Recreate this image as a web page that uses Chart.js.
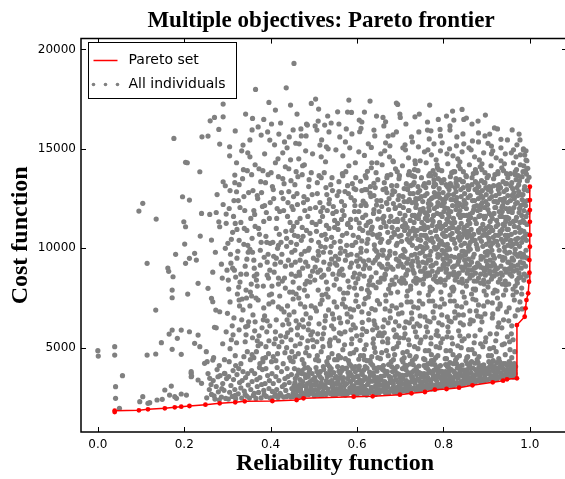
<!DOCTYPE html>
<html>
<head>
<meta charset="utf-8">
<script src="https://cdn.jsdelivr.net/npm/chart.js@4.4.0/dist/chart.umd.min.js"></script>
<style>
  html, body { margin: 0; padding: 0; background: #fff; overflow: hidden; }
</style>
</head>
<body>
<canvas id="paretoChart" width="565" height="479"></canvas>
<script>
// ticks
var xTicks = [0, 0.2, 0.4, 0.6, 0.8, 1.0];
var yTicks = [5000, 10000, 15000, 20000];

// Pareto frontier (reliability, cost)
var paretoRel = [0.039, 0.039, 0.095, 0.116, 0.155, 0.178, 0.193, 0.212, 0.249, 0.282, 0.318, 0.340, 0.404, 0.460, 0.476,
  0.592, 0.636, 0.699, 0.726, 0.757, 0.780, 0.807, 0.836, 0.867, 0.914, 0.938, 0.947, 0.970, 0.970, 0.988, 0.990, 0.992,
  0.996, 0.998, 0.999, 0.999, 1.0, 1.0, 1.0, 1.0, 1.0, 1.0];
var paretoCost = [1767, 1832, 1853, 1903, 1953, 2003, 2034, 2069, 2134, 2204, 2255, 2305, 2320, 2370, 2456,
  2536, 2556, 2637, 2707, 2773, 2888, 2923, 2989, 3109, 3260, 3341, 3411, 3461, 6140, 6558, 6980, 7397,
  7734, 8317, 8770, 9408, 10077, 10665, 11331, 11921, 12424, 13093];

// all individuals: [reliability, cost]
var outliers = [
  [0.000,4849],[0.001,4582],[0.039,5050],[0.039,4632],[0.041,3039],[0.041,2456],[0.050,1950],[0.057,3592],
  [0.097,2285],[0.104,2536],[0.116,2204],[0.120,2235],[0.137,2370],[0.149,2406],[0.155,2873],[0.170,3073],[0.166,2621],[0.178,2536],[0.182,2456],[0.193,2672],[0.205,2621],
  [0.216,3712],[0.216,3541],[0.232,3376],[0.240,3209],[0.259,3461],[0.278,3541],[0.293,3712],[0.216,3793],[0.217,3577],
  [0.114,4632],[0.134,4683],[0.147,5251],[0.165,5688],[0.172,5889],[0.184,5472],[0.193,5889],[0.172,4919],[0.193,4667],
  [0.212,5804],[0.224,5220],[0.232,5638],[0.236,5050],[0.251,4799],[0.247,4215],[0.266,4381],
  [0.134,6894],[0.172,7900],[0.172,7513],[0.174,8569],[0.180,9694],[0.162,9006],[0.164,8840],[0.114,9242],
  [0.201,10212],[0.203,9242],[0.208,7699],[0.212,9493],[0.224,9745],[0.228,9408],[0.232,8237],[0.237,10614],
  [0.255,7985],[0.263,7483],[0.266,7312],[0.263,10413],[0.270,6025],[0.273,6894],[0.282,6809],[0.300,6729],
  [0.095,11871],[0.104,12258],[0.135,11469],[0.196,12590],[0.212,12424],[0.199,11333],[0.203,11082],
  [0.240,11750],[0.259,11700],[0.274,11800],[0.297,11720],[0.280,11333],[0.282,11082],[0.297,11253],
  [0.203,14320],[0.207,14300],[0.236,13847],[0.290,13344],[0.295,13143],[0.317,13681],[0.321,12842],
  [0.176,15526],[0.241,15606],[0.255,15642],[0.282,15239],[0.305,15104],[0.336,15189],[0.398,15440],
  [0.432,15350],[0.443,15600],[0.458,15280],[0.471,15650],[0.514,15190],[0.529,15100],
  [0.280,15978],[0.378,15692],[0.419,15742],[0.507,15943],[0.485,16195],
  [0.260,16411],[0.270,16582],[0.290,16612],[0.358,16531],[0.384,16481],[0.342,16747],[0.411,16949],[0.511,17000],
  [0.290,17250],[0.396,17336],[0.446,17200],[0.494,17285],[0.504,17501],[0.365,17989],[0.436,18070],[0.454,19296]
];

var upperEdge = [
  [0.581,17451],[0.555,16860],[0.578,16850],[0.587,16830],[0.694,17235],[0.699,16748],[0.700,16582],[0.768,17200],[0.734,16612],
  [0.645,16647],[0.660,16582],[0.666,16360],[0.788,16481],[0.807,16647],[0.821,16898],[0.843,16984],
  [0.824,16446],[0.847,16481],[0.880,16396],[0.975,15742],[0.907,15742],[0.933,15476],[0.903,15275],[0.911,15139],
  [0.483,16245],[0.510,16396],[0.525,16195],[0.605,16446],[0.609,16028],[0.606,15858],[0.639,15943],[0.672,15642],
  [0.763,15943],[0.771,15908],[0.792,15978],[0.815,15943],
  [0.985,14938],[0.988,14687],[0.991,14435],[0.995,14018],[0.992,13731],[0.998,13566],
  [0.305,14650],[0.318,15900],[0.327,13200],[0.333,14900],[0.346,13900],[0.352,15450],[0.364,14200],[0.371,16100],[0.377,13350],[0.386,14750],
  [0.393,15850],[0.401,13800],[0.409,15200],[0.417,14500],[0.423,16300],[0.431,13250],[0.438,15050],[0.446,14450],[0.452,15950],[0.459,13850],
  [0.466,15250],[0.474,14150],[0.482,15650],[0.489,13450],[0.497,14750],[0.503,16150],[0.512,13650],[0.518,15450],[0.527,14350],[0.535,15850],
  [0.542,13550],[0.551,14950],[0.558,16250],[0.566,13750],[0.573,15350],[0.581,14150],[0.588,15750],[0.597,13550],[0.604,14850],[0.611,16350],
  [0.619,13650],[0.626,15250],[0.633,14050],[0.641,15650],[0.648,13450],[0.655,14750],[0.662,16150],[0.669,13550],[0.676,15150],[0.684,14350],
  [0.691,15850],[0.698,13650],[0.706,15050],[0.713,16250],[0.721,13850],[0.728,15350],[0.735,14250],[0.743,15850],[0.749,13550],[0.756,14850],
  [0.763,16350],[0.771,13650],[0.778,15250],[0.786,14050],[0.793,15650],[0.801,13450],[0.808,14750],[0.815,16150],[0.823,13850],[0.830,15150],
  [0.838,14350],[0.845,15750],[0.852,13650],[0.859,15050],[0.866,16250],[0.874,13950],[0.881,15350],[0.889,14250],[0.896,15650],[0.904,13650],
  [0.911,14750],[0.918,16050],[0.926,13850],[0.933,15050],[0.941,14250],[0.948,15450],[0.955,13750],[0.962,14950],[0.969,13950],[0.977,15450],
  [0.984,13850],[0.959,15950],[0.897,16700],[0.853,16550],[0.744,16750],[0.617,16850],[0.532,16650],[0.461,16750],[0.402,16250],[0.357,15950]
];

var lowBand = [
  [0.252,2480],[0.258,2900],[0.263,2650],[0.267,3350],[0.271,2420],[0.274,3050],[0.279,2780],[0.283,3600],[0.286,2520],[0.289,3200],
  [0.292,2860],[0.296,2450],[0.298,3450],[0.255,3700],[0.262,3150],[0.276,3900],[0.281,2380],[0.294,3700],[0.269,2580],[0.287,2950],
  [0.302,2420],[0.305,2760],[0.308,3100],[0.311,2550],[0.314,3400],[0.317,2900],[0.319,2440],[0.322,3650],[0.325,2680],[0.328,3250],
  [0.331,2980],[0.333,2470],[0.336,3800],[0.339,2820],[0.342,3500],[0.345,2560],[0.348,3120],[0.303,3550],[0.313,3850],[0.326,3950],
  [0.341,2650],[0.347,3700],[0.318,2600],[0.334,3350],
  [0.351,2470],[0.354,2900],[0.357,3300],[0.360,2600],[0.363,3700],[0.366,2450],[0.369,3050],[0.372,2750],[0.375,3500],[0.378,2480],
  [0.381,3900],[0.384,2850],[0.387,3200],[0.390,2550],[0.393,3600],[0.396,2950],[0.399,2470],[0.356,3850],[0.368,3400],[0.379,3150],
  [0.389,3950],[0.397,3350],[0.362,2700],[0.385,2650],[0.374,4000],
  [0.401,2480],[0.404,2800],[0.406,3200],[0.409,2560],[0.412,3550],[0.414,2900],[0.417,2500],[0.419,3350],[0.422,2700],[0.425,3800],
  [0.427,3050],[0.430,2520],[0.433,3450],[0.435,2850],[0.438,3950],[0.441,2600],[0.443,3250],[0.446,2530],[0.448,3650],[0.403,3700],
  [0.415,4000],[0.424,2620],[0.432,3150],[0.440,3550],[0.449,2950],[0.411,2650],[0.436,2540],
  [0.451,2540],[0.453,2850],[0.456,3250],[0.458,2600],[0.461,3600],[0.463,2950],[0.466,2560],[0.468,3400],[0.471,2750],[0.473,3850],
  [0.476,3100],[0.478,2620],[0.481,3500],[0.483,2880],[0.486,4000],[0.488,2650],[0.491,3300],[0.493,2980],[0.496,3700],[0.498,2700],
  [0.455,3950],[0.465,3750],[0.475,2700],[0.485,3200],[0.495,2850],[0.460,3050],[0.470,2590],[0.490,3900],[0.479,3650],[0.499,3150],
  [0.501,2590],[0.503,2900],[0.506,3300],[0.508,2650],[0.511,3650],[0.513,3000],[0.516,2600],[0.518,3450],[0.521,2800],[0.523,3900],
  [0.526,3150],[0.528,2650],[0.531,3550],[0.533,2920],[0.536,4050],[0.538,2700],[0.541,3350],[0.543,3020],[0.546,3750],[0.548,2750],
  [0.505,4000],[0.515,3800],[0.525,2720],[0.535,3250],[0.545,2880],[0.510,3100],[0.520,2630],[0.540,3950],[0.529,3700],[0.549,3200],
  [0.502,3500],[0.532,4150],
  [0.551,2650],[0.553,2950],[0.556,3350],[0.558,2700],[0.561,3700],[0.563,3050],[0.566,2660],[0.568,3500],[0.571,2850],[0.573,3950],
  [0.576,3200],[0.578,2700],[0.581,3600],[0.583,2970],[0.586,4100],[0.588,2750],[0.591,3400],[0.593,3080],[0.596,3800],[0.598,2800],
  [0.555,4050],[0.565,3850],[0.575,2760],[0.585,3300],[0.595,2930],[0.560,3150],[0.570,2680],[0.590,3950],[0.579,3750],[0.599,3250],
  [0.552,3550],[0.582,4200],[0.562,2820],[0.589,3550],
  [0.601,2680],[0.603,2980],[0.606,3380],[0.608,2730],[0.611,3720],[0.613,3070],[0.616,2690],[0.618,3520],[0.621,2880],[0.623,3970],
  [0.626,3220],[0.628,2730],[0.631,3620],[0.633,2990],[0.636,4120],[0.638,2780],[0.641,3420],[0.643,3100],[0.646,3820],[0.648,2830],
  [0.605,4070],[0.615,3870],[0.625,2790],[0.635,3320],[0.645,2950],[0.610,3170],[0.620,2710],[0.640,3970],[0.629,3770],[0.649,3270],
  [0.602,3570],[0.632,4220],[0.612,2850],[0.639,3570],[0.622,3420],[0.644,2730],
  [0.651,2740],[0.653,3130],[0.655,3560],[0.657,2810],[0.659,3900],[0.662,2950],[0.664,3300],[0.666,2720],[0.668,3700],[0.671,3050],
  [0.673,4150],[0.675,2790],[0.677,3420],[0.679,2880],[0.682,3800],[0.684,3180],[0.686,2760],[0.688,3600],[0.691,2990],[0.693,4050],
  [0.695,3270],[0.697,2800],[0.699,3500],[0.656,3380],[0.661,4100],[0.669,3200],[0.674,3560],[0.681,2920],[0.687,3950],[0.694,3700],
  [0.652,2900],[0.667,2850],[0.683,3330],[0.698,3120],[0.663,3850],[0.689,2830],
  [0.701,2790],[0.703,3180],[0.705,3610],[0.707,2860],[0.709,3950],[0.712,3000],[0.714,3350],[0.716,2800],[0.718,3750],[0.721,3100],
  [0.723,4180],[0.725,2880],[0.727,3470],[0.729,2950],[0.732,3850],[0.734,3230],[0.736,2870],[0.738,3650],[0.741,3040],[0.743,4080],
  [0.745,3320],[0.747,2900],[0.749,3550],[0.706,3430],[0.711,4120],[0.719,3250],[0.724,3610],[0.731,2970],[0.737,4000],[0.744,3750],
  [0.702,2960],[0.717,2920],[0.733,3380],[0.748,3170],[0.713,3900],[0.739,2920],[0.728,3780],
  [0.751,2930],[0.753,3300],[0.755,3700],[0.757,2990],[0.759,4000],[0.762,3130],[0.764,3480],[0.766,2960],[0.768,3830],[0.771,3230],
  [0.773,4170],[0.775,3020],[0.777,3570],[0.779,3090],[0.782,3920],[0.784,3350],[0.786,3030],[0.788,3720],[0.791,3170],[0.793,4100],
  [0.795,3440],[0.797,3060],[0.799,3640],[0.756,3510],[0.761,4130],[0.769,3380],[0.774,3700],[0.781,3120],[0.787,4020],[0.794,3820],
  [0.752,3100],[0.767,3090],[0.783,3520],[0.798,3280],[0.763,3950],[0.789,3070],[0.778,3860],
  [0.801,3080],[0.803,3430],[0.805,3800],[0.807,3130],[0.809,4050],[0.812,3270],[0.814,3600],[0.816,3110],[0.818,3900],[0.821,3360],
  [0.823,4200],[0.825,3160],[0.827,3680],[0.829,3220],[0.832,3980],[0.834,3470],[0.836,3180],[0.838,3790],[0.841,3300],[0.843,4120],
  [0.845,3560],[0.847,3200],[0.849,3730],[0.806,3620],[0.811,4150],[0.819,3500],[0.824,3810],[0.831,3250],[0.837,4060],[0.844,3880],
  [0.802,3250],[0.817,3240],[0.833,3620],[0.848,3400],[0.813,3960],[0.839,3220],
  [0.851,3220],[0.853,3560],[0.855,3900],[0.857,3270],[0.859,4100],[0.862,3400],[0.864,3720],[0.866,3250],[0.868,3980],[0.871,3480],
  [0.873,4220],[0.875,3310],[0.877,3790],[0.879,3370],[0.882,4030],[0.884,3580],[0.886,3340],[0.888,3860],[0.891,3430],[0.893,4140],
  [0.895,3650],[0.897,3380],[0.899,3800],[0.856,3720],[0.861,4170],[0.869,3620],[0.874,3900],[0.881,3400],[0.887,4090],[0.894,3930],
  [0.852,3380],[0.867,3360],[0.883,3720],
  [0.901,3380],[0.903,3700],[0.905,4000],[0.907,3420],[0.909,4150],[0.912,3550],[0.914,3850],[0.916,3440],[0.918,4050],[0.921,3620],
  [0.923,4250],[0.925,3480],[0.927,3900],[0.929,3540],[0.932,4100],[0.934,3720],[0.936,3560],[0.938,3950],[0.941,3600],[0.943,4200],
  [0.945,3780],[0.947,3620],[0.949,3880],[0.906,3800],[0.911,4250],[0.919,3750],[0.924,3950],[0.931,3560],[0.937,4150],
  [0.951,3530],[0.953,3850],[0.955,4100],[0.957,3620],[0.959,3950],[0.962,3580],[0.964,4200],[0.966,3700],[0.952,4300],[0.958,4500],
  [0.963,3800],[0.956,3560]
];

// second pass over the band along the frontier, where the reference is almost solid grey
var lowFill = [
  [0.452,2700],[0.457,3450],[0.462,2820],[0.467,3150],[0.472,3700],[0.477,2560],[0.482,3050],[0.487,3550],[0.492,2760],[0.497,3400],
  [0.454,3100],[0.459,2620],[0.464,3880],[0.469,2930],[0.474,3300],[0.484,2680],[0.489,3750],[0.494,3080],[0.500,2640],[0.479,3980],
  [0.504,3150],[0.509,2820],[0.514,3550],[0.519,3050],[0.524,2700],[0.529,3350],[0.534,2780],[0.539,3620],[0.544,2620],[0.549,3480],
  [0.507,3800],[0.512,2720],[0.517,3250],[0.522,4050],[0.527,3000],[0.537,3850],[0.542,3150],[0.547,2950],
  [0.553,3200],[0.558,3820],[0.563,2900],[0.568,3300],[0.573,2620],[0.578,3450],[0.583,3750],[0.588,3100],[0.593,2700],[0.598,3550],
  [0.556,2780],[0.561,3480],[0.566,4000],[0.571,3100],[0.576,3980],[0.581,2800],[0.586,3650],[0.591,2880],[0.596,4050],
  [0.602,3250],[0.607,2800],[0.612,3650],[0.617,3050],[0.622,2620],[0.627,3450],[0.632,2880],[0.637,3720],[0.642,2650],[0.647,3500],
  [0.604,3900],[0.609,2980],[0.614,3350],[0.619,4050],[0.624,3150],[0.634,3000],[0.639,2750],[0.644,3300],[0.649,4000],
  [0.653,3400],[0.658,2880],[0.663,3600],[0.668,3120],[0.673,2700],[0.678,3500],[0.683,2980],[0.688,3850],[0.693,2740],[0.698,3650],
  [0.655,4000],[0.660,3150],[0.665,2780],[0.670,3800],[0.676,3250],[0.680,4050],[0.685,2850],[0.690,3380],[0.696,3050],
  [0.703,3400],[0.708,2830],[0.713,3620],[0.718,3080],[0.723,2780],[0.728,3550],[0.733,3000],[0.738,3850],[0.743,2880],[0.748,3700],
  [0.705,3950],[0.710,3200],[0.715,4100],[0.720,2900],[0.726,3300],[0.730,4150],[0.735,2930],[0.740,3420],[0.746,3080],
  [0.753,3550],[0.758,2950],[0.763,3700],[0.768,3150],[0.773,2920],[0.778,3600],[0.783,3100],[0.788,3880],[0.793,3000],[0.798,3800],
  [0.755,4100],[0.760,3300],[0.765,4200],[0.770,3050],[0.776,3450],[0.780,4150],[0.785,2980],[0.790,3550],[0.796,3200],
  [0.803,3600],[0.808,3050],[0.813,3800],[0.818,3250],[0.823,3080],[0.828,3700],[0.833,3200],[0.838,3950],[0.843,3150],[0.848,3880],
  [0.805,4150],[0.810,3400],[0.815,4250],[0.820,3150],[0.826,3520],[0.830,4200],[0.835,3100],[0.840,3620],[0.846,3300],
  [0.853,3700],[0.858,3200],[0.863,3950],[0.868,3400],[0.873,3250],[0.878,3850],[0.883,3380],[0.888,4080],[0.893,3320],[0.898,3950],
  [0.855,4200],[0.860,3500],[0.865,4300],[0.870,3300],[0.876,3650],[0.880,4250],[0.885,3300],[0.890,3750],[0.896,3500],
  [0.903,3850],[0.908,3450],[0.913,4050],[0.918,3580],[0.923,3420],[0.928,4000],[0.933,3600],[0.938,4200],[0.943,3500],[0.948,4100],
  [0.905,4300],[0.910,3600],[0.915,4350],[0.920,3480],[0.926,3800],[0.930,4300],[0.935,3460],[0.940,3900],[0.946,3700],
  [0.952,3650],[0.955,3900],[0.958,3550],[0.961,4150],[0.965,3850],[0.954,4250],[0.960,3700],[0.963,3520],[0.967,4050]
];

var midBand = [
  [0.253,4300],[0.268,4500],[0.281,4100],[0.293,4400],[0.289,5200],[0.274,6000],[0.297,5800],
  [0.304,4300],[0.318,4600],[0.331,4200],[0.346,4800],[0.309,5400],[0.327,5900],[0.341,5300],[0.315,6500],[0.336,6900],[0.349,6300],
  [0.306,7300],[0.323,7700],[0.344,7500],[0.306,4950],[0.321,5250],[0.338,4550],[0.347,6100],[0.328,7100],[0.311,6100],[0.343,5650],
  [0.319,4100],[0.333,6400],
  [0.353,4400],[0.367,4800],[0.382,4300],[0.395,4700],[0.358,5500],[0.377,5200],[0.391,5800],[0.364,6300],[0.386,6600],[0.352,7100],
  [0.371,7400],[0.396,7200],[0.380,6000],[0.357,4650],[0.371,5100],[0.388,4500],[0.396,5350],[0.363,5850],[0.384,7000],[0.359,6650],
  [0.392,6350],[0.375,4200],
  [0.402,4300],[0.416,4700],[0.429,4200],[0.444,4500],[0.408,5200],[0.423,5600],[0.437,5000],[0.447,5900],[0.413,6400],[0.431,6800],
  [0.442,6200],[0.405,7300],[0.421,7600],[0.439,7100],[0.406,4550],[0.419,5050],[0.433,4750],[0.447,5400],[0.411,5800],[0.428,6150],
  [0.443,6650],[0.418,7050],[0.435,5550],
  [0.452,4300],[0.464,4700],[0.477,4200],[0.489,4600],[0.457,5100],[0.472,5500],[0.484,5000],[0.497,5400],[0.462,6000],[0.474,6400],
  [0.487,5900],[0.454,6800],[0.469,7200],[0.482,6700],[0.494,7100],[0.459,7700],[0.478,7900],[0.456,4550],[0.468,5200],[0.481,4750],
  [0.497,5800],[0.459,6350],[0.476,6050],[0.492,6500],[0.465,7500],[0.486,5350],
  [0.504,4400],[0.517,4800],[0.530,4300],[0.542,4700],[0.507,5300],[0.522,5700],[0.537,5100],[0.549,5500],[0.512,6200],[0.527,6600],
  [0.541,6100],[0.503,7000],[0.519,7400],[0.534,6900],[0.547,7300],[0.510,7900],[0.528,7700],[0.508,4600],[0.521,5050],[0.534,4500],
  [0.546,5950],[0.509,5700],[0.526,6350],[0.543,6700],[0.515,7200],[0.538,5400],
  [0.554,4400],[0.567,4900],[0.580,4350],[0.592,4750],[0.557,5350],[0.572,5800],[0.587,5200],[0.599,5600],[0.562,6250],[0.577,6700],
  [0.591,6150],[0.553,7050],[0.569,7450],[0.584,6950],[0.597,7350],[0.560,7950],[0.578,7750],[0.594,8000],[0.557,4600],[0.571,5150],
  [0.584,4700],[0.596,6000],[0.563,5700],[0.578,6300],[0.592,6900],[0.566,7200],[0.588,5450],
  [0.604,4420],[0.617,4920],[0.630,4370],[0.642,4770],[0.607,5370],[0.622,5820],[0.637,5220],[0.649,5620],[0.612,6270],[0.627,6720],
  [0.641,6170],[0.603,7070],[0.619,7470],[0.634,6970],[0.647,7370],[0.610,7970],[0.628,7770],[0.644,8020],[0.615,4600],[0.640,5000],
  [0.608,4600],[0.621,5150],[0.634,4550],[0.646,6000],[0.611,5650],[0.627,6400],[0.642,6900],[0.616,7200],[0.638,5450],
  [0.654,4450],[0.668,4850],[0.679,4300],[0.692,5050],[0.658,5600],[0.671,5250],[0.685,5900],[0.698,5500],[0.663,6400],[0.676,6850],
  [0.689,6300],[0.652,7200],[0.666,7650],[0.681,7100],[0.694,7800],[0.672,4600],[0.687,4650],[0.660,6050],[0.696,6700],
  [0.657,4750],[0.671,5450],[0.684,4950],[0.697,6100],[0.663,5750],[0.677,6500],[0.691,7000],[0.667,7350],[0.688,5550],
  [0.704,4400],[0.716,4800],[0.728,4350],[0.741,4950],[0.708,5500],[0.721,5150],[0.735,5800],[0.748,5400],[0.713,6300],[0.726,6750],
  [0.739,6200],[0.702,7150],[0.715,7600],[0.731,7050],[0.744,7750],[0.722,4600],[0.737,4550],[0.710,6000],[0.746,6600],[0.725,7300],
  [0.706,4750],[0.719,5400],[0.733,5050],[0.745,6100],[0.711,5700],[0.727,6450],[0.741,7000],[0.716,7300],[0.738,5550],
  [0.754,4450],[0.766,4850],[0.778,4380],[0.791,5000],[0.758,5550],[0.771,5200],[0.785,5850],[0.798,5450],[0.763,6350],[0.776,6800],
  [0.789,6250],[0.752,7200],[0.765,7650],[0.781,7100],[0.794,7800],[0.772,4650],[0.787,4600],[0.760,6050],[0.796,6650],[0.775,7350],
  [0.758,4850],[0.771,5500],[0.783,5050],[0.797,6150],[0.763,5800],[0.778,6500],[0.792,7050],[0.767,7350],[0.788,5600],
  [0.804,4450],[0.816,4850],[0.828,4380],[0.841,5000],[0.808,5550],[0.821,5200],[0.835,5850],[0.848,5450],[0.813,6350],[0.826,6800],
  [0.839,6250],[0.802,7200],[0.815,7650],[0.831,7100],[0.844,7800],[0.822,4650],[0.837,4600],[0.810,6050],[0.846,6650],[0.825,7350],
  [0.806,4850],[0.819,5500],[0.833,5100],[0.846,6150],[0.811,5800],[0.827,6500],[0.842,7050],[0.816,7350],[0.838,5600],
  [0.854,4500],[0.866,4900],[0.878,4400],[0.891,5050],[0.858,5600],[0.871,5250],[0.885,5900],[0.898,5500],[0.863,6400],[0.876,6850],
  [0.889,6300],[0.852,7250],[0.865,7700],[0.881,7150],[0.894,7850],[0.872,4700],[0.896,6700],[0.875,7400],
  [0.858,4900],[0.873,5600],[0.886,5200],[0.861,6200],[0.879,6600],[0.893,7100],[0.868,7450],
  [0.904,4600],[0.916,5000],[0.928,4450],[0.941,5200],[0.908,5700],[0.921,5350],[0.935,6000],[0.948,5550],[0.913,6500],[0.926,6950],
  [0.939,6400],[0.902,7300],[0.915,7750],[0.931,7200],[0.944,7900],[0.922,4800],[0.946,6800],[0.925,7500],
  [0.907,4950],[0.923,5700],[0.936,5150],[0.914,6700],[0.931,7100],
  [0.954,4900],[0.961,5400],[0.958,6100],[0.966,6600],[0.952,7000],[0.964,7400],[0.972,6900],[0.977,7300],[0.982,6950],[0.969,7800],
  [0.957,5700],[0.965,4800],
  [0.361,4500],[0.373,5600],[0.389,5050],[0.398,6100],[0.412,4350],[0.426,5300],[0.438,6400],[0.449,4800],[0.462,5650],[0.473,4400],
  [0.488,6200],[0.499,5050],[0.511,4350],[0.524,6000],[0.536,5250],[0.548,4400],[0.559,6500],[0.573,4450],[0.586,5900],[0.598,4900],
  [0.611,6800],[0.623,4350],[0.636,5900],[0.648,4500],[0.659,5300],[0.672,6250],[0.684,4400],[0.696,5250],[0.709,4500],[0.721,6250],
  [0.734,4450],[0.746,5250],[0.757,4400],[0.769,6300],[0.782,4500],[0.794,5250],[0.807,4450],[0.818,6300],[0.831,4500],[0.843,5350],
  [0.856,4550],[0.869,6350],[0.882,4550],[0.897,5300],[0.911,4600],[0.928,6250],[0.943,4650],[0.953,5300],[0.382,4450],[0.447,4350],
  [0.562,4500],[0.617,4400],[0.706,4300],[0.772,4350],[0.852,4350],
  [0.313,5650],[0.327,7400],[0.342,6050],[0.356,7600],[0.369,5350],[0.383,6400],[0.397,7650],[0.411,5450],[0.425,6950],[0.439,5750],
  [0.452,7450],[0.466,6150],[0.479,7050],[0.493,5650],[0.506,6850],[0.519,5450],[0.533,7550],[0.546,6450],[0.559,5750],[0.573,7050],
  [0.586,6550],[0.599,7650],[0.613,5950],[0.626,7550],[0.639,6350],[0.652,5750],[0.665,6950],[0.678,7750],[0.691,5650],[0.704,6750],
  [0.717,7850],[0.731,6050],[0.744,7350],[0.757,6550],[0.769,7850],[0.783,5650],[0.796,7450],[0.809,6550],[0.822,7850],[0.835,6650],
  [0.848,7550],[0.861,6850],[0.874,7950],[0.887,6550],[0.899,7650],[0.913,7250],[0.926,6050],[0.939,7650],[0.951,6350],[0.961,7650]
];

var cloud = [
  [0.266,8800],[0.288,8500],[0.299,8900],[0.272,9800],[0.286,9200],[0.295,10000],[0.290,12200],[0.276,12700],
  [0.302,8400],[0.316,8900],[0.329,8300],[0.341,9100],[0.307,9700],[0.322,9500],[0.338,10200],[0.348,9800],[0.312,10800],[0.331,11300],
  [0.345,10900],[0.304,12000],[0.325,12400],[0.340,11900],[0.335,13500],[0.321,14300],[0.347,14800],
  [0.355,8200],[0.368,8700],[0.383,8100],[0.398,8900],[0.361,9400],[0.376,9900],[0.392,9300],[0.357,10500],[0.372,11000],[0.389,10600],
  [0.363,11700],[0.381,12100],[0.397,11500],[0.359,12900],[0.388,13300],[0.373,14000],[0.352,14600],[0.394,13700],[0.370,12500],
  [0.403,8100],[0.418,8500],[0.434,8000],[0.448,8700],[0.410,9200],[0.426,9700],[0.441,9400],[0.405,10300],[0.420,10700],[0.437,10100],
  [0.449,10900],[0.414,11500],[0.430,11900],[0.445,11300],[0.407,12500],[0.425,12800],[0.440,12300],[0.418,13600],[0.434,14100],
  [0.447,13400],[0.428,14800],[0.411,14300],
  [0.452,8300],[0.466,8800],[0.480,8200],[0.492,8600],[0.457,9300],[0.471,9700],[0.486,9100],[0.499,9500],[0.460,10200],[0.475,10600],
  [0.489,10000],[0.453,11100],[0.468,11500],[0.483,10900],[0.496,11300],[0.462,12200],[0.477,12600],[0.491,12000],[0.456,13200],
  [0.473,13700],[0.488,13100],[0.465,14500],[0.481,14900],[0.470,16000],
  [0.502,8400],[0.515,8900],[0.529,8300],[0.544,8700],[0.507,9400],[0.522,9800],[0.537,9200],[0.550,9600],[0.511,10300],[0.526,10700],
  [0.540,10100],[0.505,11200],[0.520,11600],[0.535,11000],[0.548,11400],[0.514,12300],[0.530,12700],[0.545,12100],[0.508,13300],
  [0.524,13800],[0.539,13200],[0.517,14600],[0.533,15000],[0.540,16300],
  [0.552,8450],[0.565,8950],[0.579,8350],[0.594,8750],[0.557,9450],[0.572,9850],[0.587,9250],[0.600,9650],[0.561,10350],[0.576,10750],
  [0.590,10150],[0.555,11250],[0.570,11650],[0.585,11050],[0.598,11450],[0.564,12350],[0.580,12750],[0.595,12150],[0.558,13350],
  [0.574,13850],[0.589,13250],[0.567,14650],[0.583,15050],[0.596,14300],[0.575,16000],[0.560,15600],
  [0.602,8470],[0.615,8970],[0.629,8370],[0.644,8770],[0.607,9470],[0.622,9870],[0.637,9270],[0.650,9670],[0.611,10370],[0.626,10770],
  [0.640,10170],[0.605,11270],[0.620,11670],[0.635,11070],[0.648,11470],[0.614,12370],[0.630,12770],[0.645,12170],[0.608,13370],
  [0.624,13870],[0.639,13270],[0.617,14670],[0.633,15070],[0.646,14300],[0.630,17400],
  [0.653,8300],[0.665,8700],[0.677,8150],[0.690,8550],[0.657,9100],[0.670,9500],[0.683,8950],[0.697,9350],[0.661,9900],[0.674,10350],
  [0.688,9750],[0.652,10700],[0.667,11100],[0.680,10550],[0.694,10950],[0.659,11500],[0.673,11950],[0.686,11350],[0.699,11750],
  [0.655,12400],[0.669,12800],[0.684,12250],[0.697,12650],[0.663,13300],[0.678,13700],[0.692,13150],[0.658,14200],[0.675,14600],
  [0.689,14000],[0.666,15300],[0.683,15700],[0.691,17300],
  [0.703,8250],[0.713,8650],[0.724,8100],[0.736,8500],[0.747,8850],[0.707,9050],[0.718,9450],[0.729,8900],[0.741,9300],[0.711,9850],
  [0.722,10300],[0.734,9700],[0.746,10100],[0.702,10650],[0.716,11050],[0.727,10500],[0.739,10900],[0.706,11450],[0.720,11900],
  [0.732,11300],[0.744,11700],[0.709,12350],[0.723,12750],[0.737,12200],[0.749,12600],[0.714,13250],[0.728,13650],[0.741,13100],
  [0.705,14150],[0.719,14550],[0.733,13950],[0.746,14400],[0.711,15200],[0.726,15600],[0.742,15100],
  [0.753,8200],[0.761,8600],[0.769,8050],[0.777,8450],[0.786,8800],[0.794,8300],[0.757,9000],[0.765,9400],[0.774,8850],[0.783,9250],
  [0.792,9650],[0.800,9100],[0.751,9800],[0.759,10250],[0.768,9650],[0.779,10050],[0.788,10450],[0.797,9900],[0.755,10650],
  [0.764,11050],[0.773,10500],[0.782,10900],[0.791,11300],[0.799,10750],[0.758,11500],[0.767,11900],[0.776,11350],[0.785,11750],
  [0.795,12150],[0.752,12350],[0.762,12750],[0.771,12200],[0.781,12600],[0.790,13000],[0.798,12450],[0.756,13250],[0.766,13650],
  [0.777,13100],[0.788,13500],[0.796,13900],[0.760,14300],[0.772,14700],[0.785,14200],[0.793,14900],[0.767,15500],[0.797,15300],
  [0.803,8150],[0.811,8550],[0.819,8000],[0.827,8400],[0.836,8750],[0.844,8250],[0.807,8950],[0.815,9350],[0.824,8800],[0.833,9200],
  [0.842,9600],[0.850,9050],[0.801,9750],[0.809,10200],[0.818,9600],[0.829,10000],[0.838,10400],[0.847,9850],[0.805,10600],
  [0.814,11000],[0.823,10450],[0.832,10850],[0.841,11250],[0.849,10700],[0.808,11450],[0.817,11850],[0.826,11300],[0.835,11700],
  [0.845,12100],[0.802,12300],[0.812,12700],[0.821,12150],[0.831,12550],[0.840,12950],[0.848,12400],[0.806,13200],[0.816,13600],
  [0.827,13050],[0.838,13450],[0.846,13850],[0.810,14250],[0.822,14650],[0.835,14150],[0.843,14850],[0.831,15600],[0.847,15250],
  [0.853,8100],[0.861,8500],[0.869,7950],[0.877,8350],[0.886,8700],[0.894,8200],[0.857,8900],[0.865,9300],[0.874,8750],[0.883,9150],
  [0.892,9550],[0.900,9000],[0.851,9700],[0.859,10150],[0.868,9550],[0.879,9950],[0.888,10350],[0.897,9800],[0.855,10550],
  [0.864,10950],[0.873,10400],[0.882,10800],[0.891,11200],[0.899,10650],[0.858,11400],[0.867,11800],[0.876,11250],[0.885,11650],
  [0.895,12050],[0.852,12250],[0.862,12650],[0.871,12100],[0.881,12500],[0.890,12900],[0.898,12350],[0.856,13150],[0.866,13550],
  [0.877,13000],[0.888,13400],[0.896,13800],[0.860,14200],[0.872,14600],[0.885,14100],[0.893,14800],[0.867,15400],[0.881,15800],
  [0.903,8050],[0.911,8450],[0.919,7900],[0.927,8300],[0.936,8650],[0.944,8150],[0.907,8850],[0.915,9250],[0.924,8700],[0.933,9100],
  [0.942,9500],[0.950,8950],[0.901,9650],[0.909,10100],[0.918,9500],[0.929,9900],[0.938,10300],[0.947,9750],[0.905,10500],
  [0.914,10900],[0.923,10350],[0.932,10750],[0.941,11150],[0.949,10600],[0.908,11350],[0.917,11750],[0.926,11200],[0.935,11600],
  [0.945,12000],[0.902,12200],[0.912,12600],[0.921,12050],[0.931,12450],[0.940,12850],[0.948,12300],[0.906,13100],[0.916,13500],
  [0.927,12950],[0.938,13350],[0.946,13750],[0.910,14150],[0.922,14550],[0.935,14050],[0.943,14750],[0.925,16000],
  [0.951,8200],[0.958,8600],[0.966,8100],[0.974,8500],[0.981,8000],[0.986,8400],[0.955,9000],[0.962,9400],[0.970,8900],[0.978,9300],
  [0.985,9700],[0.990,9100],[0.953,9800],[0.961,10200],[0.968,9700],[0.976,10100],[0.983,10500],[0.991,9900],[0.957,10700],
  [0.964,11100],[0.972,10500],[0.980,10900],[0.987,11300],[0.993,10700],[0.951,11500],[0.959,11900],[0.967,11400],[0.975,11800],
  [0.984,12200],[0.991,11600],[0.955,12400],[0.963,12800],[0.971,12300],[0.979,12700],[0.988,13100],[0.994,12400],[0.958,13300],
  [0.966,13700],[0.974,13200],[0.982,13600],[0.990,13900],[0.993,14400],[0.991,14900],[0.994,13400],[0.962,14300],[0.978,14700],
  [0.970,15200],[0.985,15000],[0.957,14800],[0.995,12900],[0.996,11800]
];

// extra points where the cloud is thickest
var core = [
  [0.312,9000],[0.327,10400],[0.344,8700],[0.362,9000],[0.378,10300],[0.394,9700],[0.367,8400],[0.408,8800],[0.423,9300],[0.437,10500],
  [0.416,10000],[0.449,9800],[0.458,8600],[0.474,9000],[0.487,9900],[0.463,10600],[0.494,10400],[0.479,11900],[0.509,8800],[0.523,9300],
  [0.538,9800],[0.516,10100],[0.547,10300],[0.531,11900],[0.558,8700],[0.573,9400],[0.586,9700],[0.562,10000],[0.597,10300],[0.578,11200],
  [0.594,12400],[0.566,11900],
  [0.606,8700],[0.619,9150],[0.633,8550],[0.647,9550],[0.609,10000],[0.625,10450],[0.641,9950],[0.613,10900],[0.631,11350],[0.646,10650],
  [0.604,11850],[0.621,12150],[0.638,11750],[0.618,12950],[0.642,13050],[0.627,9400],
  [0.656,8500],[0.668,8950],[0.681,8400],[0.695,9100],[0.660,9650],[0.676,9850],[0.691,10150],[0.654,10300],[0.671,10800],[0.687,10700],
  [0.662,11300],[0.678,11600],[0.693,11450],[0.657,12100],[0.674,12500],[0.689,12050],[0.666,13000],[0.683,12900],[0.697,13500],[0.671,9200],
  [0.704,8500],[0.717,8900],[0.731,8350],[0.743,9100],[0.709,9550],[0.726,9650],[0.738,10000],[0.703,10350],[0.719,10700],[0.735,10650],
  [0.748,11000],[0.712,11200],[0.728,11650],[0.742,11500],[0.707,12050],[0.721,12450],[0.736,12500],[0.716,13000],[0.732,13300],[0.745,12900],
  [0.725,9200],[0.747,10400],[0.730,11000],
  [0.754,8450],[0.767,8750],[0.781,8600],[0.795,8950],[0.758,9600],[0.771,9100],[0.787,9700],[0.799,9450],[0.762,10050],[0.776,10300],
  [0.791,10200],[0.756,10950],[0.770,10800],[0.786,11100],[0.798,11100],[0.763,11650],[0.779,12000],[0.793,11700],[0.757,12650],[0.772,12500],
  [0.787,12300],[0.799,12800],[0.766,13300],[0.782,13200],[0.794,13400],[0.776,13900],[0.760,9250],[0.784,10600],
  [0.804,8400],[0.817,8700],[0.831,8550],[0.845,8900],[0.808,9500],[0.821,9050],[0.837,9650],[0.849,9400],[0.812,10000],[0.826,10250],
  [0.841,10150],[0.806,10900],[0.820,10750],[0.836,11050],[0.848,11050],[0.813,11600],[0.829,11950],[0.843,11650],[0.807,12600],[0.822,12450],
  [0.837,12250],[0.849,12750],[0.816,13250],[0.832,13150],[0.844,13350],[0.826,13850],[0.810,9200],[0.834,10550],
  [0.854,8350],[0.867,8650],[0.881,8500],[0.895,8850],[0.858,9450],[0.871,9000],[0.887,9600],[0.899,9350],[0.862,9950],[0.876,10200],
  [0.891,10100],[0.856,10850],[0.870,10700],[0.886,11000],[0.898,11000],[0.863,11550],[0.879,11900],[0.893,11600],[0.857,12550],[0.872,12400],
  [0.887,12200],[0.899,12700],[0.866,13200],[0.882,13100],[0.894,13300],[0.876,13800],[0.860,9150],[0.884,10500],
  [0.904,8300],[0.917,8600],[0.931,8450],[0.945,8800],[0.908,9400],[0.921,8950],[0.937,9550],[0.949,9300],[0.912,9900],[0.926,10150],
  [0.941,10050],[0.906,10800],[0.920,10650],[0.936,10950],[0.948,10950],[0.913,11500],[0.929,11850],[0.943,11550],[0.907,12500],[0.922,12350],
  [0.937,12150],[0.949,12650],[0.916,13150],[0.932,13050],[0.944,13250],[0.926,13750],[0.910,9100],[0.934,10450],
  [0.954,8700],[0.963,9100],[0.972,9600],[0.981,10300],[0.956,10400],[0.966,10800],[0.977,11300],[0.986,11900],[0.953,12000],[0.962,12600],
  [0.976,12000],[0.984,12700],[0.960,13000],[0.968,13450],[0.988,10600],[0.959,9500],[0.970,8400],[0.980,9000]
];

// second pass over the thick part of the cloud
var coreFill = [
  [0.503,9050],[0.511,9650],[0.518,8550],[0.526,10050],[0.534,8950],[0.541,10550],[0.549,9250],[0.506,10850],[0.514,11350],[0.521,12050],
  [0.529,11150],[0.536,12450],[0.544,11750],[0.508,12750],[0.517,13550],[0.528,13050],[0.543,12900],[0.532,7950],[0.519,7650],[0.547,8150],
  [0.553,9150],[0.561,9750],[0.568,8650],[0.576,10150],[0.584,9050],[0.591,10650],[0.599,9350],[0.556,10950],[0.564,11450],[0.571,12150],
  [0.579,11250],[0.586,12550],[0.594,11850],[0.558,12850],[0.567,13650],[0.578,13150],[0.593,13000],[0.582,8050],[0.569,7750],[0.597,8250],
  [0.603,9100],[0.609,9800],[0.616,8600],[0.623,10250],[0.629,9000],[0.636,10700],[0.642,9400],[0.649,8300],[0.606,11000],[0.613,11550],
  [0.619,12250],[0.626,11300],[0.632,12600],[0.639,11950],[0.646,12400],[0.611,12900],[0.621,13550],[0.631,13100],[0.644,13800],[0.624,7900],
  [0.637,8150],[0.648,10550],[0.634,14300],[0.652,9200],[0.658,9900],[0.665,8650],[0.672,10300],[0.678,9050],[0.685,10800],[0.691,9450],
  [0.698,8350],[0.655,11050],[0.662,11600],[0.668,12300],[0.675,11350],[0.681,12700],[0.688,12000],[0.695,12450],[0.660,12950],[0.670,13650],
  [0.680,13150],[0.693,13850],[0.673,7950],[0.686,8200],[0.697,10600],[0.683,14400],[0.664,14900],
  [0.702,9200],[0.708,9950],[0.714,8700],[0.720,10350],[0.727,9100],[0.733,10850],[0.739,9500],[0.745,8400],[0.705,11100],[0.711,11650],
  [0.717,12350],[0.723,11400],[0.730,12750],[0.736,12050],[0.743,12500],[0.709,13000],[0.719,13700],[0.729,13200],[0.741,13900],[0.724,7950],
  [0.737,8250],[0.748,10650],[0.734,14400],[0.712,14950],[0.746,11950],
  [0.752,9300],[0.757,10000],[0.763,8750],[0.769,10400],[0.775,9150],[0.781,10900],[0.787,9550],[0.793,8450],[0.799,10200],[0.755,11150],
  [0.761,11700],[0.767,12400],[0.773,11450],[0.779,12800],[0.785,12100],[0.791,12550],[0.797,11600],[0.759,13050],[0.769,13750],[0.779,13250],
  [0.789,13950],[0.774,7950],[0.786,8300],[0.798,10700],[0.783,14450],[0.764,14950],[0.796,13300],[0.753,12000],
  [0.802,9250],[0.807,9900],[0.813,8700],[0.819,10450],[0.825,9100],[0.831,10950],[0.837,9500],[0.843,8450],[0.849,10250],[0.805,11200],
  [0.811,11750],[0.817,12450],[0.823,11500],[0.829,12850],[0.835,12150],[0.841,12600],[0.847,11650],[0.809,13100],[0.819,13800],[0.829,13300],
  [0.839,14000],[0.824,7950],[0.836,8300],[0.848,10750],[0.833,14500],[0.814,15000],[0.846,13350],[0.803,12050],[0.815,10650],[0.842,9050],
  [0.852,9200],[0.857,9850],[0.863,8650],[0.869,10400],[0.875,9050],[0.881,10900],[0.887,9450],[0.893,8400],[0.899,10200],[0.855,11150],
  [0.861,11700],[0.867,12400],[0.873,11450],[0.879,12800],[0.885,12100],[0.891,12550],[0.897,11600],[0.859,13050],[0.869,13750],[0.879,13250],
  [0.889,13950],[0.874,7900],[0.886,8250],[0.898,10700],[0.883,14450],[0.864,14950],[0.896,13300],[0.853,12000],[0.865,10600],[0.892,9000],
  [0.902,9150],[0.907,9800],[0.913,8600],[0.919,10350],[0.925,9000],[0.931,10850],[0.937,9400],[0.943,8350],[0.949,10150],[0.905,11100],
  [0.911,11650],[0.917,12350],[0.923,11400],[0.929,12750],[0.935,12050],[0.941,12500],[0.947,11550],[0.909,13000],[0.919,13700],[0.929,13200],
  [0.939,13900],[0.924,7850],[0.936,8200],[0.948,10650],[0.933,14400],[0.914,14900],[0.946,13250],[0.903,11950],[0.915,10550],[0.942,8950],
  [0.952,9300],[0.957,10100],[0.962,8850],[0.967,10450],[0.972,9150],[0.977,10800],[0.982,9550],[0.987,8700],[0.954,11250],[0.959,11800],
  [0.964,12500],[0.969,11550],[0.974,12850],[0.979,12150],[0.984,11400],[0.989,12350],[0.956,13150],[0.966,13850],[0.976,13400],[0.986,14150],
  [0.961,7950],[0.971,8250],[0.981,7700],[0.992,8600],[0.994,9500],[0.993,11200],[0.978,14200],[0.968,14600],
  [0.303,7950],[0.309,10450],[0.314,11600],[0.319,8550],[0.324,9850],[0.329,12050],[0.334,7450],[0.339,11000],[0.345,9450],[0.349,12800],
  [0.306,12900],[0.317,13300],[0.337,13950],[0.326,8050],[0.343,7900],
  [0.353,7800],[0.358,9800],[0.364,11100],[0.369,8100],[0.374,10700],[0.379,12800],[0.385,9550],[0.390,11800],[0.395,8500],[0.399,12300],
  [0.356,13700],[0.366,7500],[0.382,13900],[0.391,10300],[0.361,11900],
  [0.402,7700],[0.407,9600],[0.413,11000],[0.418,8200],[0.424,10300],[0.429,12500],[0.434,9100],[0.439,11600],[0.444,7800],[0.449,12100],
  [0.404,13100],[0.415,12000],[0.428,13500],[0.442,14000],[0.432,8500],[0.447,10300],
  [0.451,7800],[0.456,9900],[0.461,11300],[0.466,8000],[0.471,10400],[0.476,12300],[0.481,9300],[0.486,11600],[0.491,8300],[0.496,12700],
  [0.453,12600],[0.463,13600],[0.478,14200],[0.494,13800],[0.468,9400],[0.485,7600],
  [0.308,9250],[0.315,12400],[0.322,10950],[0.331,8700],[0.338,12600],[0.347,10150],[0.354,11500],[0.362,8600],[0.369,12650],[0.376,9150],
  [0.384,11350],[0.392,8650],[0.399,10250],[0.406,12950],[0.413,9500],[0.421,11850],[0.427,8350],[0.435,10850],[0.442,12850],[0.448,9150],
  [0.455,10650],[0.461,12750],[0.467,8650],[0.473,11050],[0.479,9850],[0.485,12450],[0.491,10750],[0.497,8850],[0.504,12050],[0.510,9850],
  [0.516,11850],[0.523,8650],[0.529,10450],[0.535,12250],[0.541,9450],[0.548,11050],[0.554,12650],[0.560,8850],[0.566,10650],[0.572,12850],
  [0.578,9650],[0.585,11450],[0.591,8550],[0.597,12950],[0.603,10550],[0.609,12150],[0.615,9350],[0.621,11150],[0.627,8150],[0.633,10950],
  [0.639,12650],[0.645,9850],[0.651,11850],[0.657,10450],[0.663,8450],[0.669,12250],[0.675,9650],[0.681,11050],[0.687,12850],[0.693,10250],
  [0.699,12150],[0.705,9650],[0.711,11250],[0.717,12950],[0.723,10850],[0.729,9350],[0.735,12350],[0.741,10450],[0.747,11850],[0.753,8850],
  [0.759,10650],[0.765,12250],[0.771,9850],[0.777,11650],[0.783,8350],[0.789,12750],[0.795,10350],[0.801,11850],[0.807,9650],[0.813,12950],
  [0.819,11250],[0.825,8650],[0.831,12150],[0.837,10750],[0.843,9850],[0.849,12250],[0.855,8750],[0.861,11250],[0.867,10450],[0.873,12950],
  [0.879,9250],[0.885,11950],[0.891,10650],[0.897,8650],[0.903,12950],[0.909,11050],[0.915,9650],[0.921,12650],[0.927,10650],[0.933,8750],
  [0.939,12350],[0.945,10450],[0.951,11850],[0.957,9150],[0.963,12050],[0.969,10250],[0.975,8750],[0.981,11650],[0.987,12950],[0.989,9550],
  [0.712,8250],[0.754,9950],[0.791,11150],[0.822,8050],[0.858,10050],[0.887,12650],[0.918,9150],[0.944,11350],[0.972,12650],[0.733,11650],
  [0.768,8650],[0.804,10150],[0.839,11550],[0.871,8350],[0.906,10350],[0.936,11850],[0.965,9750],[0.694,11350],[0.658,9050],[0.622,12950],
  [0.588,10150],[0.552,11850],[0.518,10650],[0.484,8350],[0.452,11950],[0.418,10150],[0.386,12150],[0.352,9950],[0.318,11250],[0.301,10250]
];

// the near-solid block right of 0.7
var coreDense = [
  [0.701,9600],[0.706,12600],[0.710,10900],[0.715,9250],[0.719,11900],[0.724,13150],[0.728,10150],[0.732,8750],[0.737,11550],[0.741,12800],
  [0.745,9750],[0.750,11300],[0.754,13150],[0.758,8650],[0.762,10500],[0.766,12050],[0.770,9400],[0.774,11150],[0.778,13450],[0.782,9950],
  [0.786,12650],[0.790,8950],[0.794,11000],[0.798,12250],[0.802,10600],[0.806,8800],[0.810,12000],[0.814,9950],[0.818,13150],[0.822,11050],
  [0.826,9550],[0.830,12350],[0.834,8700],[0.838,11900],[0.842,10550],[0.846,13050],[0.850,9650],[0.854,11650],[0.858,12950],[0.862,10300],
  [0.866,8900],[0.870,11950],[0.874,13350],[0.878,10050],[0.882,11600],[0.886,9050],[0.890,12300],[0.894,10900],[0.898,13050],[0.902,9850],
  [0.906,11750],[0.910,12850],[0.914,10250],[0.918,8850],[0.922,11100],[0.926,13150],[0.930,9600],[0.934,12450],[0.938,11200],[0.942,9850],
  [0.946,12950],[0.950,10950],[0.954,8950],[0.958,12650],[0.962,11350],[0.966,9950],[0.970,13050],[0.974,11050],[0.978,9750],[0.982,12450],
  [0.986,10850],[0.990,12150],[0.992,10400],[0.716,10450],[0.739,8450],[0.763,11400],[0.787,10050],[0.811,11350],[0.835,9350],[0.859,10750],
  [0.883,12800],[0.907,8750],[0.931,11600],[0.955,10350],[0.979,8550],[0.727,12300],[0.751,10050],[0.775,12550],[0.799,9150],[0.823,12700],
  [0.847,10950],[0.871,9700],[0.895,11500],[0.919,12050],[0.943,10650],[0.967,12250],[0.985,9250],[0.708,8400],[0.733,13600],[0.757,11800],
  [0.781,13700],[0.805,12500],[0.829,13500],[0.853,13600],[0.877,12150],[0.901,13550],[0.925,12300],[0.949,13550],[0.973,13650]
];

var individuals = outliers.concat(upperEdge, lowBand, lowFill, midBand, cloud, core, coreFill, coreDense);

var pareto = paretoRel.map(function(r, i) { return {x: r, y: paretoCost[i]}; });
var allPoints = individuals.map(function(p) { return {x: p[0], y: p[1]}; });

var xTitle = 'Reliability function';

// matplotlib-like frame: inward ticks, left/top/bottom spines running to the picture edge
// (the right spine of the original falls just outside the picture, only its ticks show)
var frameAndLegend = {
  id: 'frameAndLegend',
  afterDraw: function(chart) {
    var ctx = chart.ctx, a = chart.chartArea;
    var sx = chart.scales.x, sy = chart.scales.y;
    var edge = chart.width;
    ctx.save();
    ctx.strokeStyle = '#000';
    ctx.lineWidth = 1;
    ctx.beginPath();
    xTicks.forEach(function(v) {
      var px = Math.round(sx.getPixelForValue(v)) + 0.5;
      ctx.moveTo(px, a.bottom); ctx.lineTo(px, a.bottom - 5);
      ctx.moveTo(px, a.top); ctx.lineTo(px, a.top + 5);
    });
    yTicks.forEach(function(v) {
      var py = Math.round(sy.getPixelForValue(v)) + 0.5;
      ctx.moveTo(a.left, py); ctx.lineTo(a.left + 5, py);
      ctx.moveTo(edge - 3, py); ctx.lineTo(edge, py);
    });
    ctx.stroke();
    ctx.lineWidth = 1.5;
    ctx.beginPath();
    ctx.moveTo(edge, a.top); ctx.lineTo(a.left, a.top);
    ctx.lineTo(a.left, a.bottom); ctx.lineTo(edge, a.bottom);
    ctx.stroke();

    // x axis title, sits a little right of the axes centre in the original
    ctx.fillStyle = '#000';
    ctx.font = 'bold 24px "Liberation Serif"';
    ctx.textAlign = 'center';
    ctx.textBaseline = 'middle';
    ctx.fillText(xTitle, 335, chart.height - 15.5);

    // legend
    var lx = Math.round(a.left + 7) + 0.5, ly = Math.round(a.top + 3) + 0.5;
    ctx.fillStyle = '#fff';
    ctx.fillRect(lx, ly, 148, 56);
    ctx.lineWidth = 1;
    ctx.strokeStyle = '#000';
    ctx.strokeRect(lx, ly, 148, 56);
    var ds = chart.data.datasets;
    ctx.strokeStyle = ds[0].borderColor;
    ctx.lineWidth = 1.5;
    ctx.beginPath();
    ctx.moveTo(lx + 5, ly + 18); ctx.lineTo(lx + 29, ly + 18);
    ctx.stroke();
    ctx.fillStyle = ds[1].pointBackgroundColor;
    [5, 17, 29].forEach(function(dx) {
      ctx.beginPath();
      ctx.arc(lx + dx, ly + 42, 1.8, 0, Math.PI * 2);
      ctx.fill();
    });
    ctx.fillStyle = '#000';
    ctx.font = '14px "DejaVu Sans"';
    ctx.textAlign = 'left';
    ctx.textBaseline = 'middle';
    ctx.fillText(ds[0].label, lx + 40, ly + 18);
    ctx.fillText(ds[1].label, lx + 40, ly + 42);
    ctx.restore();
  }
};

var ctx = document.getElementById('paretoChart');

var paretoChart = new Chart(ctx, {
  type: 'scatter',
  data: {
    datasets: [
      {
        label: 'Pareto set',
        data: pareto,
        showLine: true,
        borderColor: '#ff0000',
        borderWidth: 1.5,
        pointRadius: 2.4,
        pointBackgroundColor: '#ff0000',
        pointBorderWidth: 0,
        tension: 0,
        order: 0
      },
      {
        label: 'All individuals',
        data: allPoints,
        pointRadius: 2.6,
        pointBackgroundColor: '#808080',
        pointBorderWidth: 0,
        order: 1
      }
    ]
  },
  options: {
    responsive: false,
    animation: false,
    devicePixelRatio: 1,
    events: [],
    layout: { padding: { left: 0, right: 0, top: 0, bottom: 0 } },
    plugins: {
      legend: { display: false },
      tooltip: { enabled: false },
      title: {
        display: true,
        fullSize: false,
        text: 'Multiple objectives: Pareto frontier',
        color: '#000',
        font: { family: '"Liberation Serif"', size: 23, weight: 'bold' },
        padding: { top: 7, bottom: 4 }
      }
    },
    scales: {
      x: {
        type: 'linear',
        min: -0.039,
        max: 1.072,
        afterBuildTicks: function(s) { s.ticks = xTicks.map(function(v) { return {value: v}; }); },
        afterFit: function(s) { s.height = 47; },
        grid: { display: false, drawTicks: false },
        border: { display: false },
        ticks: {
          color: '#000',
          padding: 6,
          font: { family: '"DejaVu Sans"', size: 12 },
          callback: function(v) { return v.toFixed(1); }
        },
        title: { display: false }
      },
      y: {
        type: 'linear',
        min: 762,
        max: 20543,
        afterBuildTicks: function(s) { s.ticks = yTicks.map(function(v) { return {value: v}; }); },
        afterFit: function(s) { s.width = 81; },
        grid: { display: false, drawTicks: false },
        border: { display: false },
        ticks: {
          color: '#000',
          padding: 5,
          font: { family: '"DejaVu Sans"', size: 12 },
          callback: function(v) { return String(v); }
        },
        title: {
          display: true,
          text: 'Cost function',
          color: '#000',
          font: { family: '"Liberation Serif"', size: 24, weight: 'bold' },
          padding: { top: 6, bottom: 0 }
        }
      }
    }
  },
  plugins: [frameAndLegend]
});
</script>
</body>
</html>
